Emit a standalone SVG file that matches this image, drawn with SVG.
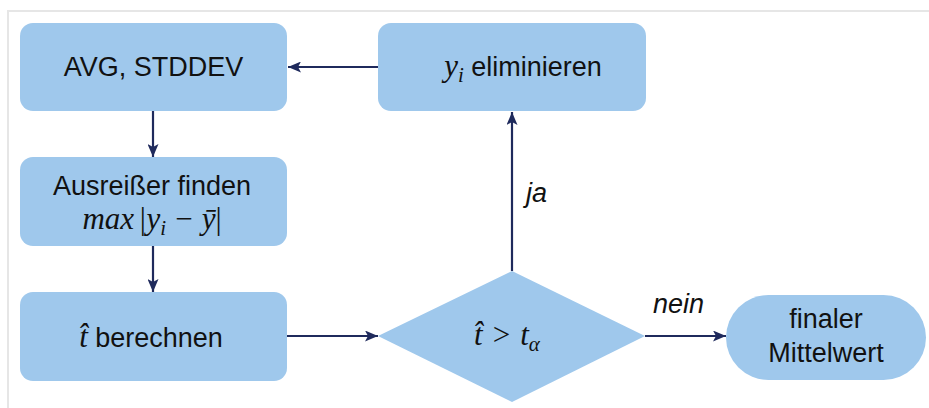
<svg xmlns="http://www.w3.org/2000/svg" width="929" height="408" viewBox="0 0 929 408">
  <style>
    .box { fill: #9fc8ec; }
    .lbl { font-family: "Liberation Sans", Arial, sans-serif; font-size: 27px; fill: #111; }
    .math { font-family: "Liberation Serif", "Times New Roman", serif; font-style: italic; font-size: 31px; }
    .sub { font-size: 21px; }
    .conn { stroke: #1f2a5c; stroke-width: 2.2; fill: none; marker-end: url(#arrow); }
    .edge-lbl { font-family: "Liberation Sans", Arial, sans-serif; font-size: 27px; font-style: italic; fill: #111; }
  </style>
  <defs>
    <marker id="arrow" markerUnits="userSpaceOnUse" markerWidth="13" markerHeight="11" refX="13" refY="5.5" orient="auto">
      <path d="M0,0 L13,5.5 L0,11 L3,5.5 Z" fill="#1f2a5c"/>
    </marker>
  </defs>

  <rect width="929" height="408" fill="#fff"/>
  <!-- page frame -->
  <polyline points="8,408 8,11 929,11" fill="none" stroke="#e6e6e6" stroke-width="2"/>

  <g id="connectors">
    <line class="conn" x1="378" y1="67" x2="288" y2="67"/>
    <line class="conn" x1="153" y1="111" x2="153" y2="157"/>
    <line class="conn" x1="153" y1="246" x2="153" y2="292"/>
    <line class="conn" x1="287" y1="336" x2="378" y2="336"/>
    <line class="conn" x1="512" y1="271" x2="512" y2="112"/>
    <line class="conn" x1="645" y1="336" x2="726" y2="336"/>
    <text class="edge-lbl" x="526" y="202">ja</text>
    <text class="edge-lbl" x="653" y="313">nein</text>
  </g>

  <g id="avg-stddev">
    <rect class="box" x="20" y="23" width="267" height="88" rx="13"/>
    <text class="lbl" x="153.5" y="76" text-anchor="middle">AVG, STDDEV</text>
  </g>

  <g id="eliminate">
    <rect class="box" x="378" y="23" width="268" height="88" rx="13"/>
    <text class="lbl" x="523" y="76" text-anchor="middle"><tspan class="math">y</tspan><tspan class="math sub" dy="6">i</tspan><tspan dy="-6"> eliminieren</tspan></text>
  </g>

  <g id="find-outlier">
    <rect class="box" x="20" y="157" width="267" height="89" rx="13"/>
    <text class="lbl" x="152" y="195" text-anchor="middle">Ausreißer finden</text>
    <text class="lbl math" x="152" y="229" text-anchor="middle">max<tspan dx="4">|y</tspan><tspan class="sub" dy="6">i</tspan><tspan dy="-6" dx="9" font-style="normal">−</tspan><tspan dx="9">y&#x0304;</tspan><tspan font-style="normal">|</tspan></text>
  </g>

  <g id="compute-t">
    <rect class="box" x="20" y="292" width="267" height="89" rx="13"/>
    <text class="lbl" x="151" y="347" text-anchor="middle"><tspan class="math">t&#x0302;</tspan> berechnen</text>
  </g>

  <g id="decision">
    <polygon class="box" points="378,336 512,271 645,336 512,402"/>
    <text class="lbl math" x="507" y="345" text-anchor="middle">t&#x0302;<tspan dx="10" font-style="normal">&gt;</tspan><tspan dx="10">t</tspan><tspan class="sub" dy="6">α</tspan></text>
  </g>

  <g id="final-mean">
    <rect class="box" x="726" y="295" width="200" height="85" rx="42.5"/>
    <text class="lbl" x="826" y="328" text-anchor="middle">finaler</text>
    <text class="lbl" x="826" y="362" text-anchor="middle">Mittelwert</text>
  </g>
</svg>
